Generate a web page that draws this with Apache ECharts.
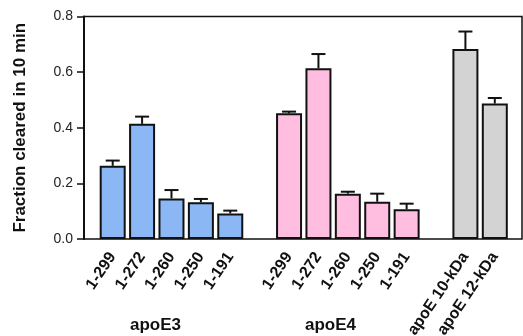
<!DOCTYPE html>
<html>
<head>
<meta charset="utf-8">
<script src="https://cdn.jsdelivr.net/npm/echarts@6/dist/echarts.min.js"></script>
<style>
html,body{margin:0;padding:0;background:#fff;}
#chart{width:523px;height:336px;}
</style>
</head>
<body>
<div id="chart"></div>
<script>
// ---- data ----
var apoE3Labels = ['1-299', '1-272', '1-260', '1-250', '1-191'];
var apoE3Means = [0.263, 0.414, 0.146, 0.132, 0.092];
var apoE3Err = [0.019, 0.026, 0.030, 0.012, 0.010];

var apoE4Labels = ['1-299', '1-272', '1-260', '1-250', '1-191'];
var apoE4Means = [0.452, 0.614, 0.163, 0.134, 0.107];
var apoE4Err = [0.006, 0.051, 0.007, 0.029, 0.020];

var fragLabels = ['apoE 10-kDa', 'apoE 12-kDa'];
var fragMeans = [0.683, 0.487];
var fragErr = [0.063, 0.020];

var groupNames = ['apoE3', 'apoE4'];
var yTicks = [0.0, 0.2, 0.4, 0.6, 0.8];
var yTitle = 'Fraction cleared in 10 min';

// ---- build ----
var FONT = '"Liberation Sans", Arial, sans-serif';
var groups = [
  {labels: apoE3Labels, means: apoE3Means, err: apoE3Err, color: '#8bb8f5'},
  {labels: apoE4Labels, means: apoE4Means, err: apoE4Err, color: '#ffbde0'},
  {labels: fragLabels, means: fragMeans, err: fragErr, color: '#d3d3d3'}
];
var categories = [], barData = [], errData = [];
groups.forEach(function (g, gi) {
  if (gi > 0) { categories.push(''); barData.push('-'); }
  g.labels.forEach(function (lab, i) {
    var idx = categories.length;
    categories.push(lab);
    barData.push({value: g.means[i], itemStyle: {color: g.color}});
    errData.push([idx, g.means[i], g.means[i] + g.err[i]]);
  });
});

var chart = echarts.init(document.getElementById('chart'), null, {renderer: 'canvas'});
var option = {
  animation: false,
  backgroundColor: '#fff',
  grid: [
    {left: 84, right: 1, top: 16.5, bottom: 97, show: true, borderColor: '#111', borderWidth: 1.5, backgroundColor: 'transparent', containLabel: false, outerBoundsMode: 'none'},
    {left: 98, right: 13.5, top: 16.5, bottom: 97, containLabel: false, outerBoundsMode: 'none'}
  ],
  xAxis: [
    {gridIndex: 0, type: 'value', min: 0, max: 1, show: false},
    {gridIndex: 1, type: 'category', data: categories,
     axisLine: {show: false}, axisTick: {show: false},
     axisLabel: {interval: 0, rotate: 56, margin: 15, fontFamily: FONT, fontWeight: 'bold', fontSize: 16, color: '#111'}}
  ],
  yAxis: [
    {gridIndex: 0, type: 'value', min: yTicks[0], max: yTicks[yTicks.length - 1], interval: 0.2,
     axisLine: {show: true, lineStyle: {color: '#111', width: 2}},
     axisTick: {show: true, length: 7, lineStyle: {color: '#111', width: 1.5}},
     splitLine: {show: false},
     axisLabel: {formatter: function (v) { return v.toFixed(1); }, fontFamily: FONT, fontSize: 14, color: '#222', margin: 11},
     name: yTitle, nameLocation: 'middle', nameGap: 55,
     nameTextStyle: {fontFamily: FONT, fontWeight: 'bold', fontSize: 17, color: '#111'}},
    {gridIndex: 1, type: 'value', min: yTicks[0], max: yTicks[yTicks.length - 1], show: false}
  ],
  series: [
    {type: 'bar', xAxisIndex: 1, yAxisIndex: 1, data: barData, barWidth: 26,
     itemStyle: {borderColor: '#111', borderWidth: 2}},
    {type: 'custom', xAxisIndex: 1, yAxisIndex: 1, data: errData, z: 3,
     encode: {x: 0, y: [1, 2]},
     renderItem: function (params, api) {
       var base = api.coord([api.value(0), api.value(1)]);
       var top = api.coord([api.value(0), api.value(2)]);
       var hw = 7;
       var st = {stroke: '#111', lineWidth: 2, fill: null};
       return {type: 'group', children: [
         {type: 'line', shape: {x1: base[0], y1: base[1], x2: top[0], y2: top[1]}, style: st},
         {type: 'line', shape: {x1: top[0] - hw, y1: top[1], x2: top[0] + hw, y2: top[1]}, style: st}
       ]};
     }}
  ],
  graphic: [
    {type: 'text', left: 130, top: 317, style: {text: groupNames[0], font: 'bold 17px ' + FONT, fill: '#111'}},
    {type: 'text', left: 305, top: 317, style: {text: groupNames[1], font: 'bold 17px ' + FONT, fill: '#111'}}
  ]
};
chart.setOption(option);
</script>
</body>
</html>
